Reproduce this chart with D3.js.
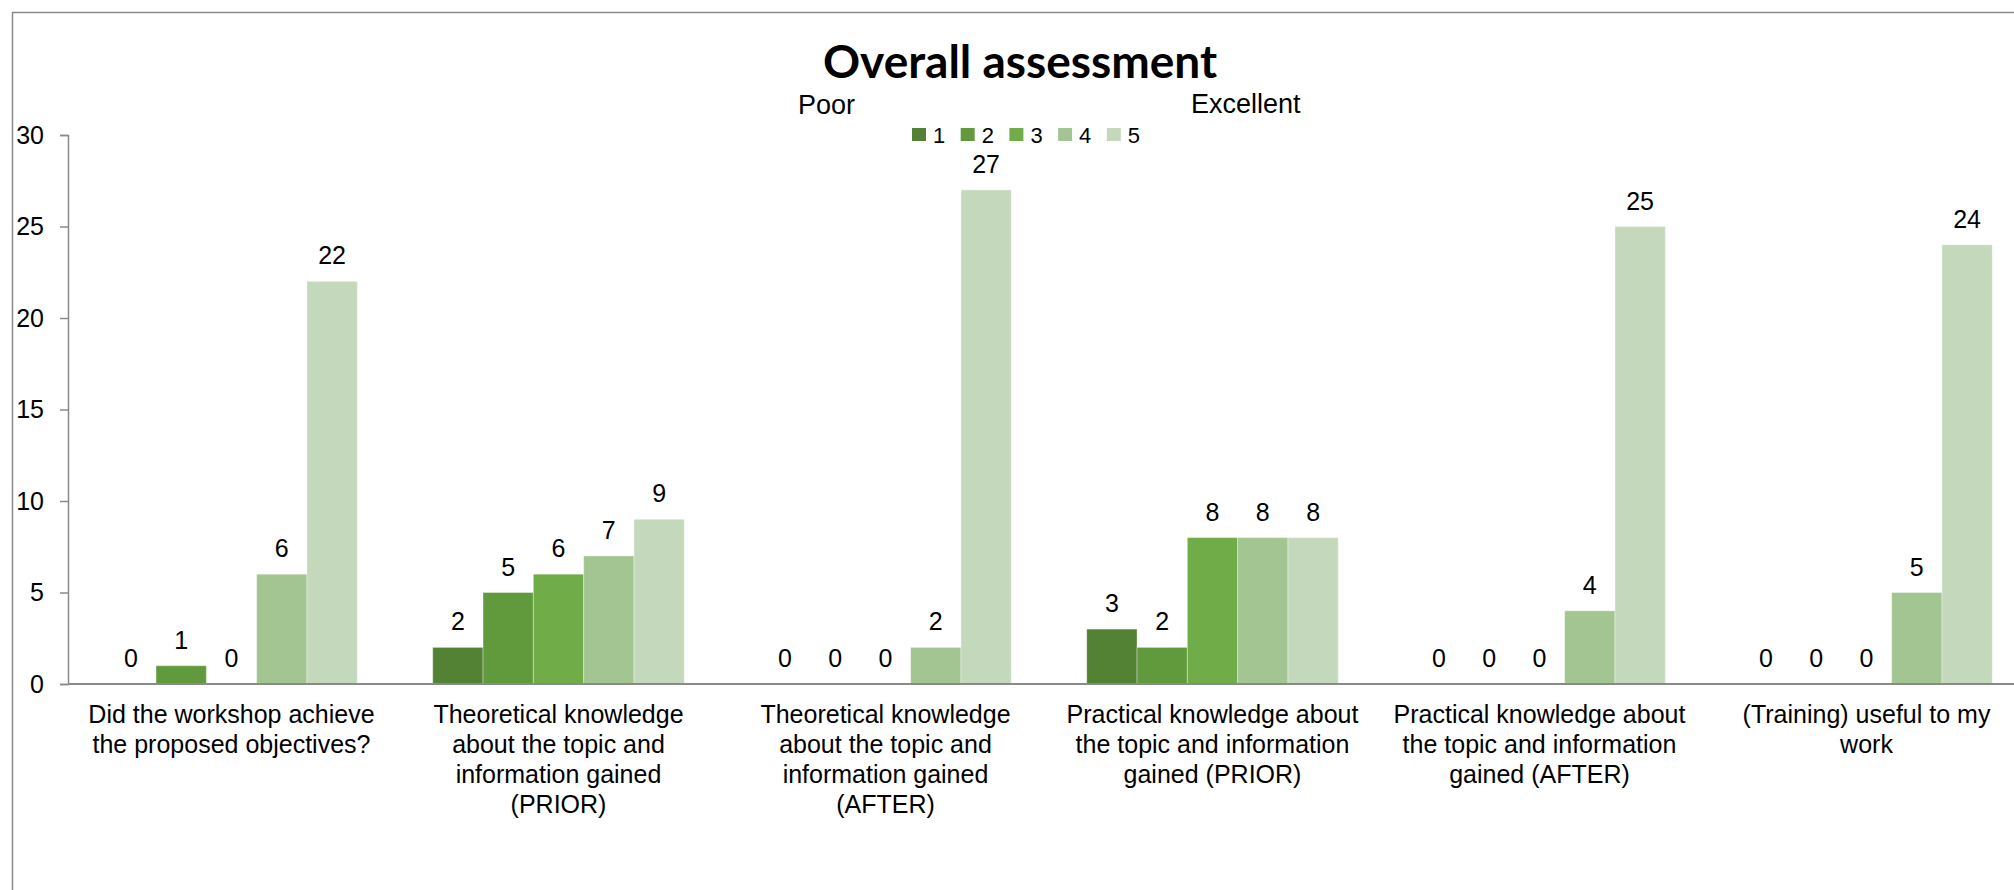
<!DOCTYPE html>
<html>
<head>
<meta charset="utf-8">
<script src="https://cdn.jsdelivr.net/npm/d3@7"></script>
<style>
  html, body { margin: 0; padding: 0; background: #fff; overflow: hidden; }
  svg text { font-family: "Liberation Sans", Arial, sans-serif; fill: #000; }
  .title { font-family: Lato, "Open Sans", sans-serif; font-weight: bold; }
</style>
</head>
<body>
<div id="chart"></div>
<script>
// categories (wrapped like the original)
const categories = [
  ["Did the workshop achieve", "the proposed objectives?"],
  ["Theoretical knowledge", "about the topic and", "information gained", "(PRIOR)"],
  ["Theoretical knowledge", "about the topic and", "information gained", "(AFTER)"],
  ["Practical knowledge about", "the topic and information", "gained (PRIOR)"],
  ["Practical knowledge about", "the topic and information", "gained (AFTER)"],
  ["(Training) useful to my", "work"]
];

const seriesNames = ["1", "2", "3", "4", "5"];
const seriesColors = ["#548235", "#619a3c", "#70ac47", "#a3c591", "#c4d9bc"];

// one array per rating, one value per question
const rating1 = [0, 2, 0, 3, 0, 0];
const rating2 = [1, 5, 0, 2, 0, 0];
const rating3 = [0, 6, 0, 8, 0, 0];
const rating4 = [6, 7, 2, 8, 4, 5];
const rating5 = [22, 9, 27, 8, 25, 24];

const yTicks = [0, 5, 10, 15, 20, 25, 30];

const width = 2014;
const height = 890;

const svg = d3.select("#chart")
  .append("svg")
  .attr("width", width)
  .attr("height", height);

// chart border (runs past the right and bottom edges, as in the crop)
svg.append("rect")
  .attr("x", 12.5)
  .attr("y", 12.5)
  .attr("width", width + 20)
  .attr("height", height + 20)
  .attr("fill", "none")
  .attr("stroke", "#8a8a8a")
  .attr("stroke-width", 1.5);

const plotLeft = 68;
const bandW = 327;

const catIds = categories.map((c, i) => i);
const allSeries = [rating1, rating2, rating3, rating4, rating5];

const x0 = d3.scaleBand()
  .domain(catIds)
  .range([plotLeft, plotLeft + bandW * categories.length]);

const x1 = d3.scaleBand()
  .domain(seriesNames)
  .range([0, x0.bandwidth()])
  .paddingInner(0)
  .paddingOuter(0.75);

const y = d3.scaleLinear()
  .domain([0, 30])
  .range([684, 135]);

const rows = catIds.map(i => ({
  cat: i,
  values: seriesNames.map((s, k) => ({ key: s, k: k, value: allSeries[k][i] }))
}));

const groups = svg.selectAll(".group")
  .data(rows)
  .enter()
  .append("g")
  .attr("class", "group")
  .attr("transform", d => `translate(${x0(d.cat)},0)`);

groups.selectAll("rect")
  .data(d => d.values)
  .enter()
  .append("rect")
  .attr("x", d => x1(d.key))
  .attr("y", d => y(d.value))
  .attr("width", x1.bandwidth())
  .attr("height", d => y(0) - y(d.value))
  .attr("fill", d => seriesColors[d.k])
  .attr("stroke", "#ffffff")
  .attr("stroke-opacity", 0.35)
  .attr("stroke-width", 1);

groups.selectAll(".lbl")
  .data(d => d.values)
  .enter()
  .append("text")
  .attr("class", "lbl")
  .attr("x", d => x1(d.key) + x1.bandwidth() / 2)
  .attr("y", d => y(d.value) - 17)
  .attr("text-anchor", "middle")
  .style("font-size", "25px")
  .text(d => d.value);

// y axis
const yAxis = svg.append("g")
  .attr("transform", `translate(68,0)`)
  .call(d3.axisLeft(y).tickValues(yTicks).tickSize(8).tickPadding(16));

yAxis.select(".domain").attr("stroke", "#8a8a8a").attr("stroke-width", 1.5);
yAxis.selectAll(".tick line").attr("stroke", "#8a8a8a").attr("stroke-width", 1.5);
yAxis.selectAll(".tick text")
  .style("font-size", "25px")
  .style("font-family", "'Liberation Sans', Arial, sans-serif")
  .attr("fill", "#000");

// x axis line
svg.append("line")
  .attr("x1", 68)
  .attr("x2", plotLeft + bandW * categories.length)
  .attr("y1", y(0))
  .attr("y2", y(0))
  .attr("stroke", "#8a8a8a")
  .attr("stroke-width", 2);

// category labels
const catLabels = svg.selectAll(".cat")
  .data(rows)
  .enter()
  .append("text")
  .attr("class", "cat")
  .attr("text-anchor", "middle")
  .style("font-size", "25px");

catLabels.each(function(d) {
  const t = d3.select(this);
  categories[d.cat].forEach((line, j) => {
    t.append("tspan")
      .attr("x", x0(d.cat) + x0.bandwidth() / 2)
      .attr("y", 723 + j * 30)
      .text(line);
  });
});

// title
svg.append("text")
  .attr("class", "title")
  .attr("x", 1020)
  .attr("y", 78)
  .attr("text-anchor", "middle")
  .style("font-size", "46px")
  .text("Overall assessment");

svg.append("text")
  .attr("x", 798)
  .attr("y", 114)
  .style("font-size", "27px")
  .text("Poor");

svg.append("text")
  .attr("x", 1191)
  .attr("y", 113)
  .style("font-size", "27px")
  .text("Excellent");

// legend
const legend = svg.selectAll(".legend")
  .data(seriesNames)
  .enter()
  .append("g")
  .attr("class", "legend")
  .attr("transform", (d, i) => `translate(${912 + i * 48.7},128)`);

legend.append("rect")
  .attr("width", 14)
  .attr("height", 13)
  .attr("fill", (d, i) => seriesColors[i]);

legend.append("text")
  .attr("x", 21)
  .attr("y", 14.5)
  .style("font-size", "22px")
  .text(d => d);
</script>
</body>
</html>
